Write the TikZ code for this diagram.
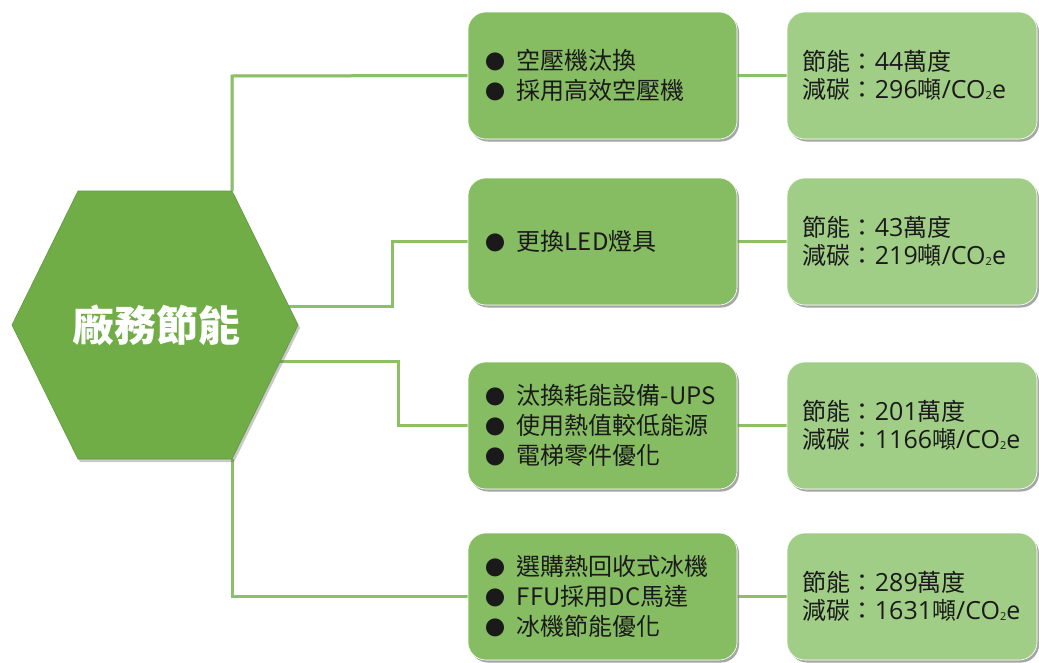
\documentclass[tikz,border=0pt]{standalone}
\usepackage{fontspec}
\setmainfont{Noto Sans CJK TC}
\newfontfamily\latn{Open Sans}
\usetikzlibrary{shadows}
\definecolor{hexgreen}{HTML}{70AD47}
\definecolor{hexborder}{HTML}{5E9A3A}
\definecolor{leftgreen}{HTML}{87BD62}
\definecolor{rightgreen}{HTML}{A1CE86}
\definecolor{linegreen}{HTML}{8BC066}
\definecolor{txt}{HTML}{1A1A1A}
\newcommand{\bul}{\makebox[31pt][l]{\fontsize{20}{20}\selectfont ●}}
\newcommand{\num}[1]{{\latn\fontsize{25}{28}\selectfont #1}}
\newcommand{\coe}{{\latn\fontsize{25}{28}\selectfont /CO\raisebox{-1pt}{\fontsize{11}{11}\selectfont 2}e}}
\begin{document}
\begin{tikzpicture}[x=1pt,y=-1pt,
  boxbase/.style={rounded corners=18pt, minimum height=127pt, inner sep=0pt, draw=white, line width=0.6pt,
    drop shadow={shadow xshift=2pt, shadow yshift=-2.5pt, opacity=0.35, fill=black!60}},
  leftbox/.style={boxbase, fill=leftgreen, minimum width=269pt},
  rightbox/.style={boxbase, fill=rightgreen, minimum width=250pt},
  itemtext/.style={anchor=west, align=left, text=txt, font=\fontsize{24}{30}\selectfont, inner sep=0pt},
  valtext/.style={anchor=west, align=left, text=txt, font=\fontsize{24}{28.5}\selectfont, inner sep=0pt},
  conn/.style={draw=linegreen, line width=3pt},
  connshadow/.style={draw=black!45, line width=3pt, opacity=0.35},
]
\useasboundingbox (0,0) rectangle (1039,662);
\fill[white] (0,0) rectangle (1039,662);

% boxes
\node[leftbox] (b1) at (602.5,75.5) {};
\node[leftbox] (b2) at (602.5,241.5) {};
\node[leftbox] (b3) at (602.5,425.5) {};
\node[leftbox] (b4) at (602.5,596.5) {};
\node[rightbox] (r1) at (912,75.5) {};
\node[rightbox] (r2) at (912,241.5) {};
\node[rightbox] (r3) at (912,425.5) {};
\node[rightbox] (r4) at (912,596.5) {};

% hexagon anchor coordinates
\coordinate (htop) at (232,191);
\coordinate (hbot) at (232,459);
\coordinate (hr1) at (284,306);
\coordinate (hr2) at (278,361);
\coordinate (k1) at (232,76);
\coordinate (k2a) at (392,306);
\coordinate (k2b) at (392,241.5);
\coordinate (k3a) at (398,361);
\coordinate (k3b) at (398,425.5);
\coordinate (k4) at (232,596.5);

% connector shadows
\begin{scope}[shift={(2,2.5)}]
\draw[connshadow] (htop) -- (k1) -- (b1.west);
\draw[connshadow] (hr1) -- (k2a) -- (k2b) -- (b2.west);
\draw[connshadow] (hr2) -- (k3a) -- (k3b) -- (b3.west);
\draw[connshadow] (hbot) -- (k4) -- (b4.west);
\draw[connshadow] (b1.east) -- (r1.west);
\draw[connshadow] (b2.east) -- (r2.west);
\draw[connshadow] (b3.east) -- (r3.west);
\draw[connshadow] (b4.east) -- (r4.west);
\end{scope}
% connectors
\draw[conn] (htop) -- (k1) -- (b1.west);
\draw[conn] (hr1) -- (k2a) -- (k2b) -- (b2.west);
\draw[conn] (hr2) -- (k3a) -- (k3b) -- (b3.west);
\draw[conn] (hbot) -- (k4) -- (b4.west);
\draw[conn] (b1.east) -- (r1.west);
\draw[conn] (b2.east) -- (r2.west);
\draw[conn] (b3.east) -- (r3.west);
\draw[conn] (b4.east) -- (r4.west);

% redraw boxes over line ends
\node[leftbox] at (b1) {};
\node[leftbox] at (b2) {};
\node[leftbox] at (b3) {};
\node[leftbox] at (b4) {};
\node[rightbox] at (r1) {};
\node[rightbox] at (r2) {};
\node[rightbox] at (r3) {};
\node[rightbox] at (r4) {};

% hexagon
\fill[black!60, opacity=0.35] (14,328) -- (80,194) -- (234,194) -- (300,328) -- (234,462) -- (80,462) -- cycle;
\draw[fill=hexgreen, draw=hexborder, line width=0.6pt] (12,325) -- (78,191) -- (232,191) -- (298,325) -- (232,459) -- (78,459) -- cycle;
\node[text=white, font=\fontsize{42}{42}\selectfont\bfseries] (hex) at (156,325) {廠務節能};

% item texts
\node[itemtext] (t1) at ([xshift=18pt]b1.west) {\bul 空壓機汰換\\ \bul 採用高效空壓機};
\node[itemtext] (t2) at ([xshift=18pt]b2.west) {\bul 更換LED燈具};
\node[itemtext] (t3) at ([xshift=18pt]b3.west) {\bul 汰換耗能設備-UPS\\ \bul 使用熱值較低能源\\ \bul 電梯零件優化};
\node[itemtext] (t4) at ([xshift=18pt]b4.west) {\bul 選購熱回收式冰機\\ \bul FFU採用DC馬達\\ \bul 冰機節能優化};

% value texts
\node[valtext] (v1) at ([xshift=16pt]r1.west) {節能：\num{44}萬度\\ 減碳：\num{296}噸\coe};
\node[valtext] (v2) at ([xshift=16pt]r2.west) {節能：\num{43}萬度\\ 減碳：\num{219}噸\coe};
\node[valtext] (v3) at ([xshift=16pt]r3.west) {節能：\num{201}萬度\\ 減碳：\num{1166}噸\coe};
\node[valtext] (v4) at ([xshift=16pt]r4.west) {節能：\num{289}萬度\\ 減碳：\num{1631}噸\coe};
\end{tikzpicture}
\end{document}
